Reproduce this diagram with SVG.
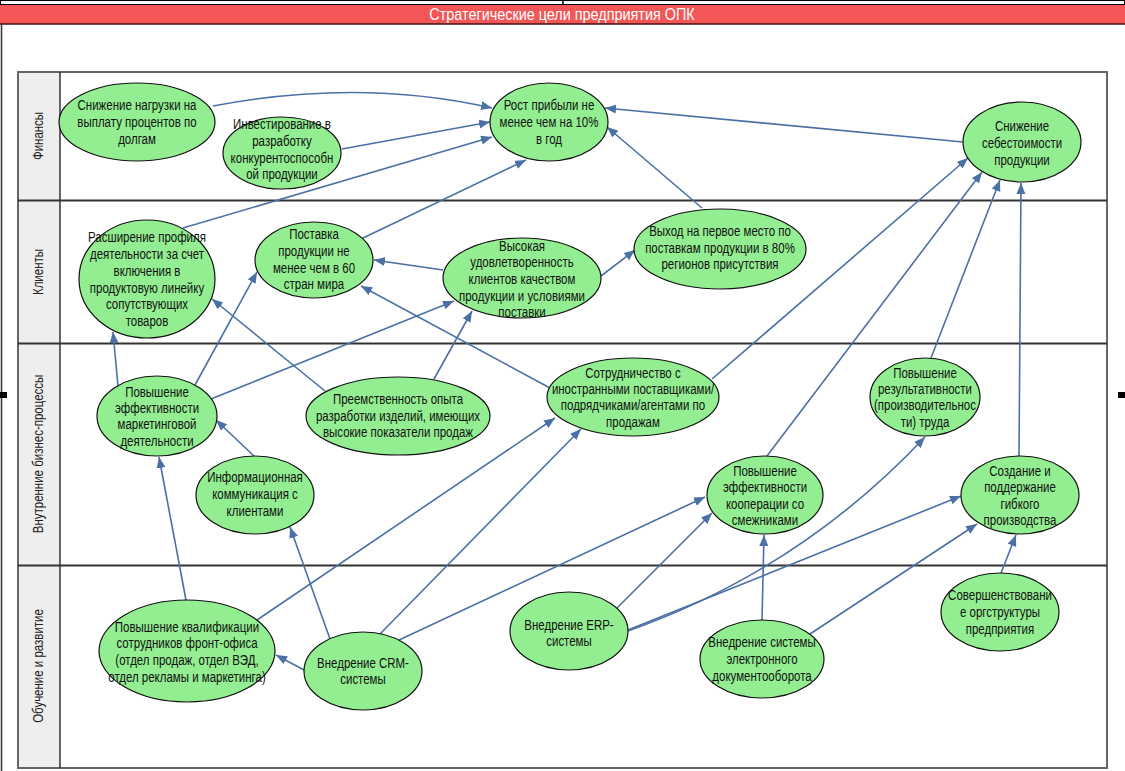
<svg xmlns="http://www.w3.org/2000/svg" width="1125" height="771" viewBox="0 0 1125 771">
<defs>
<marker id="ah" markerUnits="userSpaceOnUse" markerWidth="12" markerHeight="10" refX="11" refY="4.5" orient="auto">
<path d="M0,0 L11,4.5 L0,9 z" fill="#4a70a6"/>
</marker>
<style>
.t{font-family:'Liberation Sans',Arial,sans-serif;font-size:14px;fill:#111;text-anchor:middle}
.lane{font-family:'Liberation Sans',Arial,sans-serif;font-size:14px;fill:#222;text-anchor:middle}
.n ellipse{fill:#92ee90;stroke:#111;stroke-width:1.2}
.c path{fill:none;stroke:#4a70a6;stroke-width:1.6;marker-end:url(#ah)}
</style>
</defs>
<rect x="0" y="0" width="1125" height="771" fill="#ffffff"/>
<rect x="0.5" y="0.5" width="1124" height="4" fill="#fff" stroke="#000" stroke-width="1"/>
<line x1="563" y1="0" x2="563" y2="5" stroke="#000" stroke-width="1.5"/>
<rect x="0" y="5" width="1125" height="19" fill="#f25656"/>
<line x1="0" y1="24" x2="1125" y2="24" stroke="#4a1010" stroke-width="1.5"/>
<text x="562" y="20.5" class="t" style="fill:#fff;font-size:16px" transform="matrix(0.9,0,0,1,56.2,0)">Стратегические цели предприятия ОПК</text>
<line x1="1.5" y1="24" x2="1.5" y2="771" stroke="#333" stroke-width="1.5"/>
<rect x="0" y="392" width="7" height="6" fill="#000"/>
<rect x="1118" y="392" width="7" height="6" fill="#000"/>
<g id="pool">
<rect x="18" y="72" width="1089" height="696" fill="#fff" stroke="#666" stroke-width="2"/>
<rect x="19" y="73" width="41" height="694" fill="#eeeeee"/>
<line x1="60" y1="72" x2="60" y2="768" stroke="#333" stroke-width="1.5"/>
<line x1="18" y1="200.5" x2="1107" y2="200.5" stroke="#333" stroke-width="2"/>
<line x1="18" y1="343.5" x2="1107" y2="343.5" stroke="#333" stroke-width="2"/>
<line x1="18" y1="565.5" x2="1107" y2="565.5" stroke="#333" stroke-width="2"/>
<text class="lane" transform="translate(43,136) rotate(-90) scale(0.82,1)">Финансы</text>
<text class="lane" transform="translate(43,272) rotate(-90) scale(0.82,1)">Клиенты</text>
<text class="lane" transform="translate(43,454) rotate(-90) scale(0.82,1)">Внутренние бизнес-процессы</text>
<text class="lane" transform="translate(43,666) rotate(-90) scale(0.82,1)">Обучение и развитие</text>
</g>
<g id="connectors" class="c">
<path d="M213,106 Q360,78 492,108"/>
<path d="M342,149 L490,122"/>
<path d="M183,228 L492,137"/>
<path d="M363,238 L526,160"/>
<path d="M702,208 L607,127"/>
<path d="M963,142 L605,108"/>
<path d="M443,270 L374,260"/>
<path d="M601,276 L635,250"/>
<path d="M550,388 L361,286"/>
<path d="M325,391 L212,299"/>
<path d="M118,386 L113,332"/>
<path d="M195,385 L257,272"/>
<path d="M211,399 L454,301"/>
<path d="M434,379 L472,311"/>
<path d="M254,456 L216,420"/>
<path d="M186,600 L159,457"/>
<path d="M330,639 L290,527"/>
<path d="M257,620 L555,418"/>
<path d="M380,634 L581,429"/>
<path d="M399,640 L705,497"/>
<path d="M304,670 L276,655"/>
<path d="M617,608 L712,513"/>
<path d="M628,631 Q800,570 925,437"/>
<path d="M628,630 L961,496"/>
<path d="M762,620 L764,535"/>
<path d="M810,634 L977,524"/>
<path d="M1001,573 L1016,535"/>
<path d="M1019,456 L1021,183"/>
<path d="M931,358 L1000,180"/>
<path d="M767,456 L982,172"/>
<path d="M712,379 L968,158"/>
</g>
<g id="n1" class="n"><ellipse cx="137" cy="122" rx="78" ry="39"/><text class="t" transform="matrix(0.82,0,0,1,24.66,0)"><tspan x="137" y="110">Снижение нагрузки на</tspan><tspan x="137" y="127">выплату процентов по</tspan><tspan x="137" y="144">долгам</tspan></text></g>
<g id="n2" class="n"><ellipse cx="282" cy="153" rx="59" ry="36"/><text class="t" transform="matrix(0.82,0,0,1,50.76,0)"><tspan x="282" y="129">Инвестирование в</tspan><tspan x="282" y="146">разработку</tspan><tspan x="282" y="163">конкурентоспособн</tspan><tspan x="282" y="179">ой продукции</tspan></text></g>
<g id="n3" class="n"><ellipse cx="549" cy="122" rx="59" ry="39"/><text class="t" transform="matrix(0.82,0,0,1,98.82,0)"><tspan x="549" y="110">Рост прибыли не</tspan><tspan x="549" y="127">менее чем на 10%</tspan><tspan x="549" y="144">в год</tspan></text></g>
<g id="n4" class="n"><ellipse cx="1022" cy="142" rx="59" ry="40"/><text class="t" transform="matrix(0.82,0,0,1,183.96,0)"><tspan x="1022" y="131">Снижение</tspan><tspan x="1022" y="148">себестоимости</tspan><tspan x="1022" y="165">продукции</tspan></text></g>
<g id="n5" class="n"><ellipse cx="147" cy="279" rx="68" ry="59"/><text class="t" transform="matrix(0.82,0,0,1,26.46,0)"><tspan x="147" y="242">Расширение профиля</tspan><tspan x="147" y="259">деятельности за счет</tspan><tspan x="147" y="276">включения в</tspan><tspan x="147" y="293">продуктовую линейку</tspan><tspan x="147" y="309">сопутствующих</tspan><tspan x="147" y="326">товаров</tspan></text></g>
<g id="n6" class="n"><ellipse cx="314" cy="260" rx="59" ry="38"/><text class="t" transform="matrix(0.82,0,0,1,56.52,0)"><tspan x="314" y="239">Поставка</tspan><tspan x="314" y="256">продукции не</tspan><tspan x="314" y="273">менее чем в 60</tspan><tspan x="314" y="289">стран мира</tspan></text></g>
<g id="n7" class="n"><ellipse cx="522" cy="278" rx="79" ry="40"/><text class="t" transform="matrix(0.82,0,0,1,93.96,0)"><tspan x="522" y="251">Высокая</tspan><tspan x="522" y="267">удовлетворенность</tspan><tspan x="522" y="284">клиентов качеством</tspan><tspan x="522" y="301">продукции и условиями</tspan><tspan x="522" y="317">поставки</tspan></text></g>
<g id="n8" class="n"><ellipse cx="720" cy="249" rx="86" ry="40"/><text class="t" transform="matrix(0.82,0,0,1,129.6,0)"><tspan x="720" y="236">Выход на первое место по</tspan><tspan x="720" y="253">поставкам продукции в 80%</tspan><tspan x="720" y="269">регионов присутствия</tspan></text></g>
<g id="n9" class="n"><ellipse cx="157" cy="416" rx="60" ry="40"/><text class="t" transform="matrix(0.82,0,0,1,28.26,0)"><tspan x="157" y="397">Повышение</tspan><tspan x="157" y="413">эффективности</tspan><tspan x="157" y="429">маркетинговой</tspan><tspan x="157" y="446">деятельности</tspan></text></g>
<g id="n10" class="n"><ellipse cx="398" cy="416" rx="92" ry="39"/><text class="t" transform="matrix(0.82,0,0,1,71.64,0)"><tspan x="398" y="404">Преемственность опыта</tspan><tspan x="398" y="421">разработки изделий, имеющих</tspan><tspan x="398" y="437">высокие показатели продаж</tspan></text></g>
<g id="n11" class="n"><ellipse cx="255" cy="495" rx="59" ry="39"/><text class="t" transform="matrix(0.82,0,0,1,45.9,0)"><tspan x="255" y="482">Информационная</tspan><tspan x="255" y="499">коммуникация с</tspan><tspan x="255" y="516">клиентами</tspan></text></g>
<g id="n12" class="n"><ellipse cx="633" cy="397" rx="86" ry="39"/><text class="t" transform="matrix(0.82,0,0,1,113.94,0)"><tspan x="633" y="378">Сотрудничество с</tspan><tspan x="633" y="394">иностранными поставщиками/</tspan><tspan x="633" y="410">подрядчиками/агентами по</tspan><tspan x="633" y="427">продажам</tspan></text></g>
<g id="n13" class="n"><ellipse cx="925" cy="397" rx="55" ry="39"/><text class="t" transform="matrix(0.82,0,0,1,166.5,0)"><tspan x="925" y="378">Повышение</tspan><tspan x="925" y="394">результативности</tspan><tspan x="925" y="410">(производительнос</tspan><tspan x="925" y="427">ти) труда</tspan></text></g>
<g id="n14" class="n"><ellipse cx="765" cy="495" rx="58" ry="39"/><text class="t" transform="matrix(0.82,0,0,1,137.7,0)"><tspan x="765" y="476">Повышение</tspan><tspan x="765" y="492">эффективности</tspan><tspan x="765" y="509">кооперации со</tspan><tspan x="765" y="525">смежниками</tspan></text></g>
<g id="n15" class="n"><ellipse cx="1020" cy="495" rx="59" ry="39"/><text class="t" transform="matrix(0.82,0,0,1,183.6,0)"><tspan x="1020" y="476">Создание и</tspan><tspan x="1020" y="492">поддержание</tspan><tspan x="1020" y="509">гибкого</tspan><tspan x="1020" y="525">производства</tspan></text></g>
<g id="n16" class="n"><ellipse cx="187" cy="651" rx="88" ry="51"/><text class="t" transform="matrix(0.82,0,0,1,33.66,0)"><tspan x="187" y="632">Повышение квалификации</tspan><tspan x="187" y="648">сотрудников фронт-офиса</tspan><tspan x="187" y="665">(отдел продаж, отдел ВЭД,</tspan><tspan x="187" y="682">отдел рекламы и маркетинга)</tspan></text></g>
<g id="n17" class="n"><ellipse cx="363" cy="671" rx="59" ry="39"/><text class="t" transform="matrix(0.82,0,0,1,65.34,0)"><tspan x="363" y="668">Внедрение CRM-</tspan><tspan x="363" y="684">системы</tspan></text></g>
<g id="n18" class="n"><ellipse cx="569" cy="631" rx="59" ry="39"/><text class="t" transform="matrix(0.82,0,0,1,102.42,0)"><tspan x="569" y="630">Внедрение ERP-</tspan><tspan x="569" y="646">системы</tspan></text></g>
<g id="n19" class="n"><ellipse cx="762" cy="659" rx="62" ry="39"/><text class="t" transform="matrix(0.82,0,0,1,137.16,0)"><tspan x="762" y="647">Внедрение системы</tspan><tspan x="762" y="664">электронного</tspan><tspan x="762" y="681">документооборота</tspan></text></g>
<g id="n20" class="n"><ellipse cx="1000" cy="612" rx="59" ry="39"/><text class="t" transform="matrix(0.82,0,0,1,180,0)"><tspan x="1000" y="600">Совершенствовани</tspan><tspan x="1000" y="617">е оргструктуры</tspan><tspan x="1000" y="634">предприятия</tspan></text></g>
</svg>
